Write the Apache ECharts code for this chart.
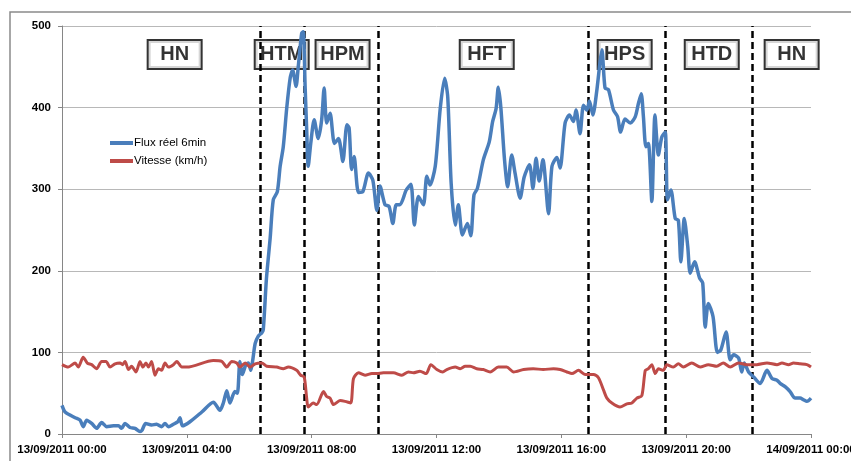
<!DOCTYPE html>
<html><head><meta charset="utf-8">
<script src="https://cdn.jsdelivr.net/npm/echarts@6/dist/echarts.min.js"></script>
<style>html,body{margin:0;padding:0;background:#fff}#c{width:851px;height:461px}</style>
</head><body><div id="c"></div>
<script>
// hours since 13/09/2011 00:00, vehicles per 6 min
const fluxPoints = [[0,35],[0.1,27],[0.42,20],[0.58,17],[0.68,9],[0.79,17],[0.95,13],[1.11,7],[1.27,14],[1.43,9],[1.65,10],[1.81,10],[1.91,7],[2.02,13],[2.18,8],[2.34,7],[2.5,3],[2.57,5],[2.68,13],[2.87,11],[3.03,12],[3.19,9],[3.3,13],[3.41,9],[3.57,12],[3.71,15],[3.78,20],[3.86,10],[4.1,15],[4.48,27],[4.85,39],[5.06,29],[5.17,38],[5.28,53],[5.38,38],[5.54,52],[5.62,50],[5.7,89],[5.78,73],[5.89,85],[5.97,87],[6.05,78],[6.11,90],[6.19,111],[6.29,120],[6.4,124],[6.45,128],[6.55,190],[6.67,240],[6.77,287],[6.9,297],[6.99,328],[7.09,352],[7.2,399],[7.31,436],[7.39,446],[7.5,426],[7.57,450],[7.68,491],[7.73,493],[7.79,426],[7.84,373],[7.89,328],[7.97,356],[8.08,385],[8.21,362],[8.32,385],[8.4,424],[8.48,381],[8.59,393],[8.73,356],[8.86,362],[9.0,334],[9.13,379],[9.2,375],[9.28,324],[9.36,340],[9.5,296],[9.64,297],[9.82,320],[9.96,311],[10.09,274],[10.19,304],[10.35,281],[10.48,279],[10.6,258],[10.71,281],[10.83,281],[11.03,299],[11.18,306],[11.29,256],[11.42,291],[11.58,281],[11.69,316],[11.79,305],[11.96,328],[12.12,399],[12.26,436],[12.36,413],[12.47,307],[12.6,256],[12.7,281],[12.83,244],[12.99,258],[13.1,243],[13.2,293],[13.31,301],[13.5,336],[13.69,358],[13.8,383],[13.91,399],[13.98,425],[14.06,401],[14.18,336],[14.28,303],[14.41,342],[14.52,319],[14.68,289],[14.81,315],[14.98,330],[15.09,301],[15.19,338],[15.29,310],[15.41,336],[15.59,270],[15.7,328],[15.86,339],[15.96,326],[16.12,381],[16.26,391],[16.39,383],[16.47,397],[16.6,368],[16.71,403],[16.82,397],[16.9,408],[17.01,391],[17.14,422],[17.24,456],[17.3,471],[17.4,424],[17.51,422],[17.67,397],[17.8,389],[17.9,370],[18.04,386],[18.21,381],[18.37,389],[18.47,405],[18.56,417],[18.63,389],[18.71,352],[18.79,356],[18.9,285],[19.0,391],[19.11,342],[19.22,364],[19.33,370],[19.4,287],[19.51,299],[19.65,264],[19.75,262],[19.83,211],[19.94,264],[20.05,230],[20.13,197],[20.27,211],[20.43,191],[20.53,185],[20.61,131],[20.71,160],[20.86,144],[21.0,100],[21.11,103],[21.28,125],[21.41,91],[21.52,97],[21.68,93],[21.78,76],[21.86,87],[22.0,76],[22.16,70],[22.37,62],[22.59,78],[22.75,68],[22.91,66],[23.01,62],[23.17,58],[23.33,52],[23.49,44],[23.65,44],[23.76,42],[23.87,40],[24,44]];

// km/h
const speedPoints = [[0,85],[0.2,82],[0.42,87],[0.52,82],[0.68,94],[0.81,87],[0.95,85],[1.11,80],[1.27,89],[1.41,89],[1.54,82],[1.7,86],[1.86,87],[1.94,85],[2.02,89],[2.13,79],[2.23,83],[2.37,76],[2.5,89],[2.59,82],[2.69,87],[2.77,82],[2.87,89],[2.98,72],[3.09,80],[3.19,78],[3.3,87],[3.41,82],[3.57,85],[3.68,89],[3.84,82],[4.0,82],[4.85,90],[5.12,89],[5.28,82],[5.44,89],[5.6,87],[5.7,82],[5.87,87],[6.03,82],[6.19,86],[6.4,87],[6.56,83],[6.88,82],[7.09,80],[7.25,82],[7.52,78],[7.65,72],[7.76,70],[7.84,44],[7.89,33],[8.05,38],[8.16,36],[8.38,52],[8.48,46],[8.59,44],[8.7,36],[8.91,41],[9.07,40],[9.25,38],[9.34,68],[9.5,75],[9.71,72],[9.93,74],[10.09,74],[10.3,75],[10.62,75],[10.89,72],[11.1,76],[11.26,75],[11.47,77],[11.67,74],[11.82,85],[12.01,79],[12.2,76],[12.33,79],[12.6,82],[12.76,80],[12.92,83],[13.08,83],[13.29,80],[13.5,79],[13.72,76],[13.98,82],[14.25,82],[14.47,76],[14.79,79],[15.1,80],[15.42,79],[15.75,80],[15.96,79],[16.18,76],[16.34,74],[16.55,78],[16.76,73],[17.03,73],[17.19,69],[17.35,54],[17.46,44],[17.62,38],[17.88,33],[18.1,37],[18.26,38],[18.42,44],[18.58,47],[18.69,78],[18.79,80],[18.9,85],[19.01,74],[19.11,80],[19.27,78],[19.38,85],[19.59,82],[19.75,86],[19.91,82],[20.18,87],[20.45,82],[20.71,85],[20.98,83],[21.19,87],[21.41,82],[21.68,87],[21.94,85],[22.26,85],[22.59,87],[22.91,85],[23.07,87],[23.28,85],[23.44,87],[23.65,86],[23.87,85],[24,82]];

const phaseBounds = [6.35, 7.76, 10.12, 16.85, 19.34, 22.12];
const phaseNames = ['HN', 'HTM', 'HPM', 'HFT', 'HPS', 'HTD', 'HN'];
const phaseCenters = [3.61, 7.04, 8.99, 13.61, 18.03, 20.82, 23.38];
const xTickHours = [0, 4, 8, 12, 16, 20, 24];
const xTickLabels = ['13/09/2011 00:00', '13/09/2011 04:00', '13/09/2011 08:00', '13/09/2011 12:00', '13/09/2011 16:00', '13/09/2011 20:00', '14/09/2011 00:00'];
const seriesNames = ['Flux réel 6min', 'Vitesse (km/h)'];

const chart = echarts.init(document.getElementById('c'), null, {renderer: 'canvas'});
const labelY = 465;
const option = {
  animation: false,
  backgroundColor: '#fff',
  graphic: [{
    type: 'rect', z: -10, silent: true,
    shape: {x: 10, y: 12, width: 900, height: 500},
    style: {fill: 'none', stroke: '#8a8a8a', lineWidth: 1.5}
  }],
  grid: {left: 62, right: 40, top: 26, bottom: 27, containLabel: false, outerBoundsMode: 'none'},
  legend: {
    orient: 'vertical', left: 105, top: 132,
    itemWidth: 23, itemHeight: 4, itemGap: 6, icon: 'rect',
    data: seriesNames,
    textStyle: {fontFamily: 'Liberation Sans', fontSize: 11.5, color: '#000', padding: [0, 0, 0, -4]}
  },
  xAxis: {
    type: 'value', min: 0, max: 24, interval: 4,
    axisLine: {show: true, lineStyle: {color: '#868686', width: 1}},
    axisTick: {show: true, length: 4, lineStyle: {color: '#868686'}},
    splitLine: {show: false},
    axisLabel: {
      margin: 10, color: '#000', fontFamily: 'Liberation Sans', fontWeight: 'bold', fontSize: 11.5,
      hideOverlap: false,
      formatter: v => { const i = xTickHours.indexOf(v); return i >= 0 ? xTickLabels[i] : ''; }
    }
  },
  yAxis: {
    type: 'value', min: 0, max: 500, interval: 100,
    axisLine: {show: true, lineStyle: {color: '#868686', width: 1}},
    axisTick: {show: true, length: 4, lineStyle: {color: '#868686'}},
    splitLine: {show: true, lineStyle: {color: '#b8b8b8', width: 1}},
    axisLabel: {margin: 11, color: '#000', fontFamily: 'Liberation Sans', fontWeight: 'bold', fontSize: 11.5}
  },
  series: [
    {
      name: 'phases', type: 'scatter', z: 1, symbolSize: 0, silent: true,
      data: phaseCenters.map((h, i) => ({value: [h, labelY], name: phaseNames[i]})),
      label: {
        show: true, position: 'inside', formatter: p => p.name,
        fontFamily: 'Liberation Sans', fontWeight: 'bold', fontSize: 20, color: '#000',
        backgroundColor: '#fff', borderColor: '#000', borderWidth: 2,
        width: 52, height: 26, lineHeight: 26, align: 'center', verticalAlign: 'middle', padding: [1, 0, 0, 0]
      },
      markLine: {
        silent: true, symbol: 'none', z: 3,
        lineStyle: {color: '#000', type: [7, 4], width: 2.5},
        label: {show: false},
        data: phaseBounds.map(h => ({xAxis: h}))
      }
    },
    {
      name: seriesNames[0], type: 'line', z: 4, data: fluxPoints, showSymbol: false, symbol: 'none',
      smooth: 0.25, lineStyle: {color: '#4a7ebb', width: 3.5}, itemStyle: {color: '#4a7ebb'}
    },
    {
      name: seriesNames[1], type: 'line', z: 5, data: speedPoints, showSymbol: false, symbol: 'none',
      smooth: 0.25, lineStyle: {color: '#be4b48', width: 3}, itemStyle: {color: '#be4b48'}
    }
  ]
};
chart.setOption(option);
</script>
</body></html>
